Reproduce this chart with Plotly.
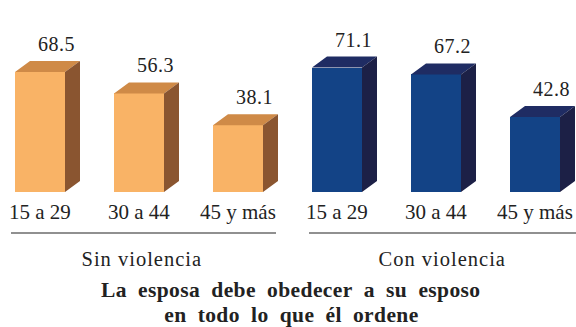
import json
import plotly.graph_objects as go

# Age groups and percentages of women agreeing with the statement
groups = ["Sin violencia", "Con violencia"]
ages = ["15 a 29", "30 a 44", "45 y más"]
sin_violencia = [68.5, 56.3, 38.1]
con_violencia = [71.1, 67.2, 42.8]
title_lines = ["La esposa debe obedecer a su esposo", "en todo lo que él ordene"]

# face colours: front, top, side
orange = ("#F9B366", "#CF8A47", "#8A5530")
blue = ("#134386", "#1F2C63", "#1C2046")

W, H = 576, 327
px_x = 99.0            # pixels per category step
x0_px = 40.0           # pixel centre of first bar
px_y = 1.75            # pixels per percentage point
base_px = 192.0        # pixel row of the zero line

bar_w = 50 / px_x
dx = 15 / px_x
dy = 11 / px_y
serif = "Liberation Serif, Times New Roman, serif"
ink = "#222222"
wide = "\u2002"        # en space between the title words

letter_spacing = {}    # annotation text -> extra tracking in px

fig = go.Figure()

series = [(sin_violencia, orange, 0), (con_violencia, blue, 3)]
for values, cols, offset in series:
    xs = [offset + i for i in range(len(values))]
    fig.add_trace(go.Bar(x=xs, y=values, width=bar_w, marker=dict(color=cols[0], line=dict(width=0)),
                         hoverinfo="skip", showlegend=False))
    top_x, top_y, side_x, side_y = [], [], [], []
    for x, v in zip(xs, values):
        l, r = x - bar_w / 2, x + bar_w / 2
        top_x += [l, r, r + dx, l + dx, l, None]
        top_y += [v, v, v + dy, v + dy, v, None]
        side_x += [r, r, r + dx, r + dx, r, None]
        side_y += [0, v, v + dy, dy, 0, None]
    fig.add_trace(go.Scatter(x=top_x, y=top_y, fill="toself", fillcolor=cols[1], mode="none",
                             hoverinfo="skip", showlegend=False))
    fig.add_trace(go.Scatter(x=side_x, y=side_y, fill="toself", fillcolor=cols[2], mode="none",
                             hoverinfo="skip", showlegend=False))
    for x, v, a in zip(xs, values, ages):
        label = f"{v:.1f}"
        letter_spacing[label] = 0.5
        fig.add_annotation(x=x + 0.17, y=v + 16, text=label, showarrow=False,
                           xanchor="center", yanchor="middle",
                           font=dict(family=serif, size=20, color=ink))
        fig.add_annotation(x=x, y=-(212 - base_px) / px_y, text=a, showarrow=False,
                           xanchor="center", yanchor="middle",
                           font=dict(family=serif, size=21, color=ink))


def to_x(px):
    return (px - x0_px) / px_x


def to_py(px):
    return 1 - px / H


# group underlines and names
for (a, b, cx), name in zip([(11, 276, 142), (309, 576, 442)], groups):
    fig.add_shape(type="line", xref="x", yref="paper", x0=to_x(a), x1=to_x(b),
                  y0=to_py(233), y1=to_py(233), line=dict(color=ink, width=1.2))
    letter_spacing[name] = 1.0
    fig.add_annotation(xref="x", yref="paper", x=to_x(cx), y=to_py(259), text=name,
                       showarrow=False, xanchor="center", yanchor="middle",
                       font=dict(family=serif, size=20.5, color=ink))

for line, ypx in zip(title_lines, [290, 315]):
    spaced = line.replace(" ", wide)
    letter_spacing[spaced] = 0.4
    fig.add_annotation(xref="x", yref="paper", x=to_x(291), y=to_py(ypx),
                       text="<b>" + spaced + "</b>",
                       showarrow=False, xanchor="center", yanchor="middle",
                       font=dict(family=serif, size=21.5, color=ink))

fig.update_layout(
    width=W, height=H, margin=dict(l=0, r=0, t=0, b=0),
    paper_bgcolor="white", plot_bgcolor="white",
    xaxis=dict(range=[-x0_px / px_x, (W - x0_px) / px_x], visible=False, fixedrange=True),
    yaxis=dict(range=[-(H - base_px) / px_y, base_px / px_y], visible=False, fixedrange=True),
    bargap=0,
)

# widen the tracking of the spaced-out labels once the plot is drawn
tracking_js = """
var gd = document.getElementById('{plot_id}');
var spacing = %s;
gd.querySelectorAll('text.annotation-text').forEach(function (t) {
    var s = spacing[t.textContent];
    if (s !== undefined) { t.style.letterSpacing = s + 'px'; }
});
""" % json.dumps(letter_spacing, ensure_ascii=False)

fig.write_html("out.html", config={"displayModeBar": False}, post_script=tracking_js)
